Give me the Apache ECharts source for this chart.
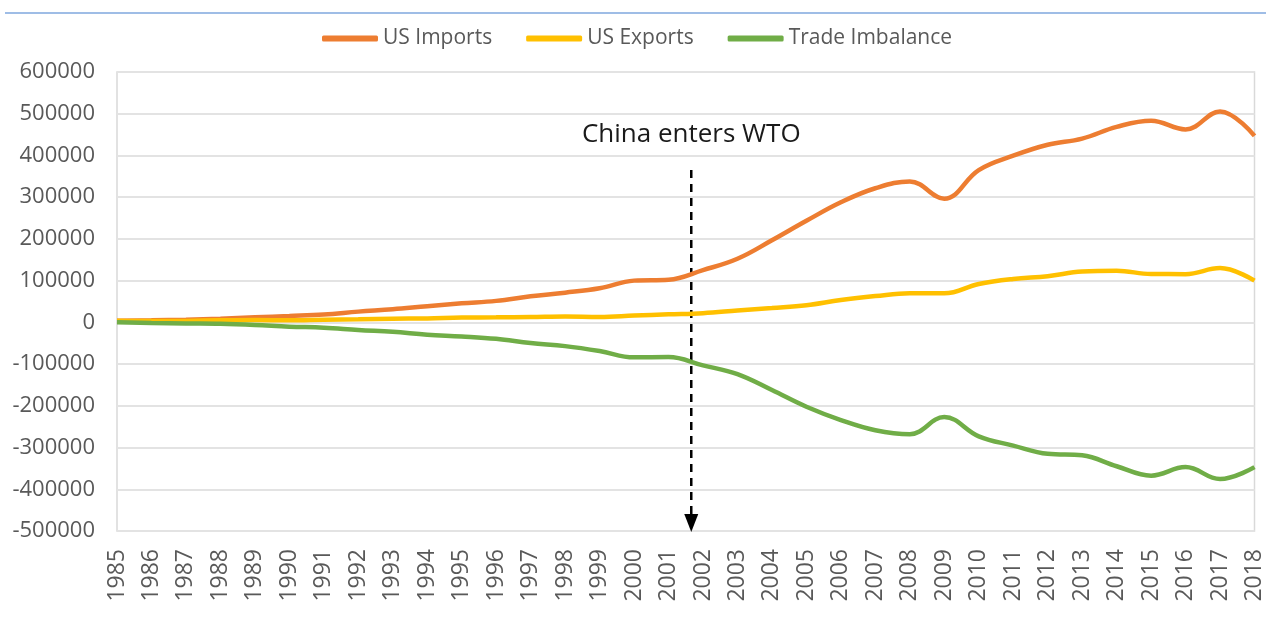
<!DOCTYPE html>
<html>
<head>
<meta charset="utf-8">
<script src="https://cdn.jsdelivr.net/npm/echarts@6/dist/echarts.min.js"></script>
<style>
  html, body { margin: 0; padding: 0; background: #fff; }
  #main { width: 1266px; height: 617px; }
</style>
</head>
<body>
<div id="main"></div>
<script>
var years = ['1985', '1986', '1987', '1988', '1989', '1990', '1991', '1992', '1993', '1994',
  '1995', '1996', '1997', '1998', '1999', '2000', '2001', '2002', '2003', '2004',
  '2005', '2006', '2007', '2008', '2009', '2010', '2011', '2012', '2013', '2014',
  '2015', '2016', '2017', '2018'];

var usImports = [3862, 4771, 6294, 8511, 11990, 15237, 18969, 25728, 31540, 38787,
  45543, 51513, 62558, 71169, 81788, 100018, 102278, 125193, 152436, 196682,
  243470, 287774, 321443, 337773, 296374, 364953, 399371, 425619, 440430, 468475,
  483202, 462420, 505470, 447000];

var usExports = [3856, 3106, 3497, 5022, 5755, 4806, 6278, 7419, 8763, 9282,
  11754, 11993, 12862, 14241, 13111, 16185, 19182, 22128, 28368, 34428,
  41192, 53673, 62937, 69733, 69497, 91911, 104122, 110517, 121746, 123657,
  115873, 115595, 129997, 100000];

var tradeImbalance = [-6, -1665, -2797, -3489, -6235, -10431, -12691, -18309, -22777, -29505,
  -33789, -39520, -49696, -56928, -68677, -83833, -83096, -103065, -124068, -162254,
  -202278, -234101, -258506, -268040, -226877, -273042, -295249, -315102, -318684, -344818,
  -367329, -346825, -375473, -347000];

var seriesNames = ['US Imports', 'US Exports', 'Trade Imbalance'];
var colors = ['#ed7d31', '#ffc000', '#70ad47'];

// annotation: WTO entry, between 2001 and 2002
var wtoLabel = 'China enters WTO';
var wtoFrom = '2001', wtoTo = '2002', wtoFrac = 0.66;
var arrowTopValue = 365000, labelValue = 450000;

var chart = echarts.init(document.getElementById('main'));

function lineSeries(name, data, color) {
  return {
    name: name,
    type: 'line',
    data: data,
    smooth: 0.4,
    showSymbol: false,
    symbol: 'none',
    lineStyle: { color: color, width: 4.5 },
    itemStyle: { color: color }
  };
}

chart.setOption({
  animation: false,
  color: colors,
  textStyle: { fontFamily: '"Open Sans", sans-serif' },
  legend: {
    data: seriesNames,
    left: 317,
    top: 23,
    icon: 'roundRect',
    itemWidth: 56,
    itemHeight: 6,
    itemGap: 34,
    textStyle: { fontSize: 21, color: '#595959', fontFamily: '"Open Sans", sans-serif' }
  },
  grid: {
    left: 117,
    right: 8,
    top: 72,
    bottom: 86,
    show: true,
    borderColor: '#d9d9d9',
    borderWidth: 1.5
  },
  xAxis: {
    type: 'category',
    data: years,
    boundaryGap: false,
    axisLine: { show: false },
    axisTick: { show: false },
    axisLabel: {
      rotate: 90,
      interval: 0,
      margin: 18,
      fontSize: 23,
      color: '#595959'
    }
  },
  yAxis: {
    type: 'value',
    min: -500000,
    max: 600000,
    interval: 100000,
    axisLine: { show: false },
    axisTick: { show: false },
    axisLabel: {
      fontSize: 22,
      color: '#595959',
      margin: 22,
      formatter: function (v) { return String(v); }
    },
    splitLine: { lineStyle: { color: '#e3e3e3', width: 2 } }
  },
  series: [
    lineSeries(seriesNames[0], usImports, colors[0]),
    lineSeries(seriesNames[1], usExports, colors[1]),
    lineSeries(seriesNames[2], tradeImbalance, colors[2])
  ]
});

// place annotation through the axes
var p1 = chart.convertToPixel({ gridIndex: 0 }, [wtoFrom, 0]);
var p2 = chart.convertToPixel({ gridIndex: 0 }, [wtoTo, 0]);
var ax = p1[0] + (p2[0] - p1[0]) * wtoFrac;
var yTop = chart.convertToPixel({ gridIndex: 0 }, [wtoFrom, arrowTopValue])[1];
var yBottom = chart.convertToPixel({ gridIndex: 0 }, [wtoFrom, -500000])[1];
var yLabel = chart.convertToPixel({ gridIndex: 0 }, [wtoFrom, labelValue])[1];

chart.setOption({
  graphic: [
    {
      type: 'line',
      shape: { x1: 5, y1: 13, x2: 1266, y2: 13 },
      style: { stroke: '#9fbde6', lineWidth: 2 }
    },
    {
      type: 'line',
      shape: { x1: ax, y1: yTop, x2: ax, y2: yBottom - 14 },
      style: { stroke: '#000', lineWidth: 2.5, lineDash: [8, 6] }
    },
    {
      type: 'polygon',
      shape: { points: [[ax - 7, yBottom - 17], [ax + 7, yBottom - 17], [ax, yBottom + 1]] },
      style: { fill: '#000' }
    },
    {
      type: 'text',
      x: ax,
      y: yLabel,
      style: {
        text: wtoLabel,
        fontSize: 26,
        fontFamily: '"Open Sans", sans-serif',
        fill: '#1a1a1a',
        align: 'center',
        verticalAlign: 'middle'
      }
    }
  ]
});
</script>
</body>
</html>
